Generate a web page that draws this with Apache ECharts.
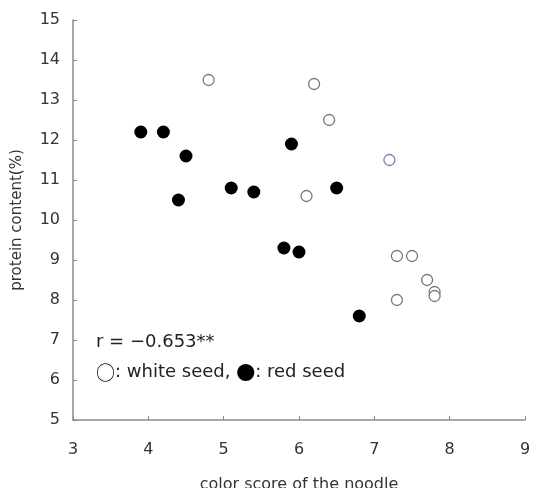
<!DOCTYPE html>
<html>
<head>
<meta charset="utf-8">
<script src="https://cdn.jsdelivr.net/npm/echarts@6/dist/echarts.min.js"></script>
<style>
  html, body { margin: 0; padding: 0; background: #fff; }
  #chart { width: 533px; height: 488px; }
</style>
</head>
<body>
<div id="chart"></div>
<script>
//--------------------------------
// Data
//--------------------------------
// red seed (filled circles): [color score, protein %]
const redSeed = [
    [3.9, 12.2], [4.2, 12.2], [4.5, 11.6], [4.4, 10.5],
    [5.1, 10.8], [5.4, 10.7], [5.9, 11.9], [6.5, 10.8],
    [5.8, 9.3], [6.0, 9.2], [6.8, 7.6]
];
// white seed (open circles)
const whiteSeed = [
    [4.8, 13.5], [6.2, 13.4], [6.4, 12.5], [6.1, 10.6],
    [7.3, 9.1], [7.5, 9.1], [7.7, 8.5], [7.8, 8.2],
    [7.8, 8.1], [7.3, 8.0]
];
// one white-seed point drawn with a bluish outline in the original
const whiteSeedBlue = [[7.2, 11.5]];

const xTicks = [3, 4, 5, 6, 7, 8, 9];
const yTicks = [5, 6, 7, 8, 9, 10, 11, 12, 13, 14, 15];

const corrText = 'r = \u22120.653**';
const legendText = '{c|\u25CB}: white seed, {c|\u25CF}: red seed';

//--------------------------------
// Chart
//--------------------------------
const myChart = echarts.init(document.getElementById('chart'));
const font = '"DejaVu Sans", sans-serif';
const cjk = '"Noto Sans CJK JP", sans-serif';
const axisGray = '#8a8a8a';

let options = {
    animation: false,
    grid: {
        left: 73,
        top: 20,
        right: 8,
        bottom: 68,
        outerBoundsMode: 'none',
        containLabel: false
    },
    xAxis: {
        type: 'value',
        min: xTicks[0],
        max: xTicks[xTicks.length - 1],
        interval: 1,
        name: 'color score of the noodle',
        nameLocation: 'middle',
        nameGap: 57,
        nameTextStyle: { fontFamily: font, fontSize: 16, color: '#333' },
        axisLine: { lineStyle: { color: axisGray, width: 1.5 } },
        axisTick: { inside: true, length: 4, lineStyle: { color: axisGray } },
        axisLabel: { fontFamily: font, fontSize: 16, color: '#333', margin: 22 },
        splitLine: { show: false }
    },
    yAxis: {
        type: 'value',
        min: yTicks[0],
        max: yTicks[yTicks.length - 1],
        interval: 1,
        name: 'protein content(%)',
        nameLocation: 'middle',
        nameGap: 48,
        nameTextStyle: { fontFamily: font, fontSize: 15, color: '#333' },
        axisLine: { show: true, lineStyle: { color: axisGray, width: 1.5 } },
        axisTick: { show: true, inside: true, length: 4, lineStyle: { color: axisGray } },
        axisLabel: { fontFamily: font, fontSize: 16, color: '#333', margin: 13 },
        splitLine: { show: false }
    },
    graphic: [
        {
            type: 'text',
            left: 96,
            top: 333,
            style: { text: corrText, font: '18px ' + font, fill: '#222' }
        },
        {
            type: 'text',
            left: 96,
            top: 363,
            style: {
                text: legendText,
                font: '18px ' + font,
                fill: '#222',
                rich: {
                    c: { fontFamily: cjk, fontSize: 19, fill: '#000' }
                }
            }
        }
    ],
    series: [
        {
            name: 'red seed',
            type: 'scatter',
            symbol: 'circle',
            symbolSize: 13,
            itemStyle: { color: '#000', opacity: 1 },
            data: redSeed
        },
        {
            name: 'white seed',
            type: 'scatter',
            symbol: 'circle',
            symbolSize: 11,
            itemStyle: { color: '#fff', borderColor: '#777', borderWidth: 1.3, opacity: 1 },
            data: whiteSeed
        },
        {
            name: 'white seed (blue)',
            type: 'scatter',
            symbol: 'circle',
            symbolSize: 11,
            itemStyle: { color: '#fff', borderColor: '#7a78c0', borderWidth: 1.3, opacity: 1 },
            data: whiteSeedBlue
        }
    ]
};

myChart.setOption(options);
</script>
</body>
</html>
